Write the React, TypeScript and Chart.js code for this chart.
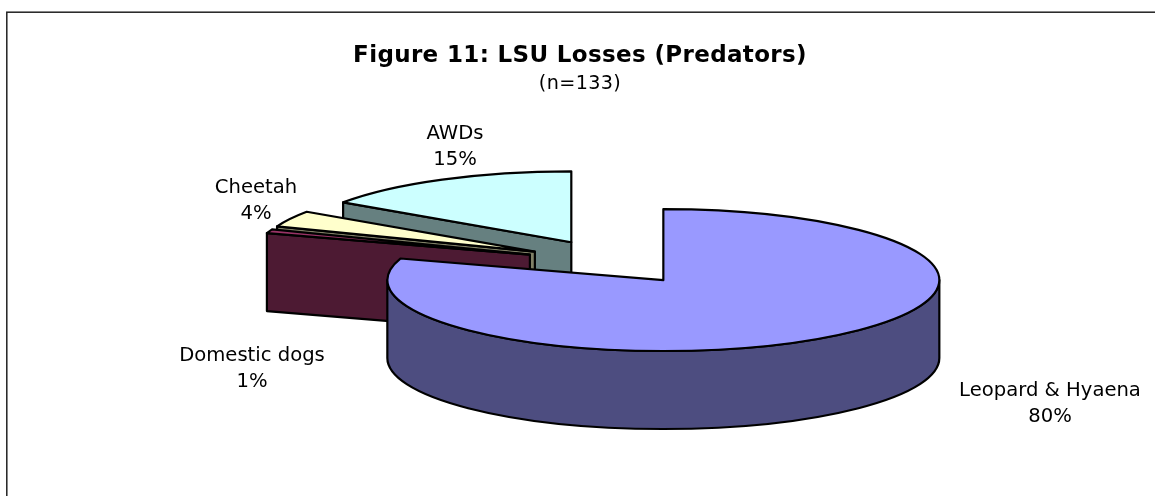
import React, { useEffect, useRef } from "react";
import { Chart, registerables } from "chart.js";

Chart.register(...registerables);

const categories = ["Leopard & Hyaena", "Domestic dogs", "Cheetah", "AWDs"];
const shares = [79.9, 0.9, 3.7, 15.49];
const percentLabels = ["80%", "1%", "4%", "15%"];
const topColors = ["#9999FF", "#993366", "#FFFFCC", "#CCFFFF"];
const sideColors = ["#4D4D80", "#4D1A33", "#808066", "#668080"];
const labelCenters = [
  [1050, 403.5],
  [252, 368.5],
  [256, 200.5],
  [455, 146.5],
];

const FONT = '"DejaVu Sans", Verdana, sans-serif';
const PIE_X = 612;
const PIE_Y = 262;
const RADIUS = 276;
const SQUASH = 0.257;
const DEPTH = 78;
const EXPLODE = 87;

const pie3d = {
  id: "pie3d",
  beforeDatasetsDraw(chart: any) {
    const { ctx } = chart;
    const arcs = chart.getDatasetMeta(0).data;
    ctx.save();
    ctx.lineWidth = 2.2;
    ctx.strokeStyle = "#000";
    ctx.lineJoin = "round";
    for (let i = arcs.length - 1; i >= 0; i--) {
      const { startAngle: a1, endAngle: a2, outerRadius: rr } = arcs[i].getProps(
        ["startAngle", "endAngle", "outerRadius"],
        true
      );
      const mid = (a1 + a2) / 2;
      const cx = PIE_X + Math.cos(mid) * EXPLODE;
      const cy = PIE_Y + Math.sin(mid) * EXPLODE * SQUASH;
      const px = (a: number) => cx + rr * Math.cos(a);
      const py = (a: number) => cy + rr * SQUASH * Math.sin(a);

      const wall = (a: number) => {
        ctx.beginPath();
        ctx.moveTo(cx, cy);
        ctx.lineTo(px(a), py(a));
        ctx.lineTo(px(a), py(a) + DEPTH);
        ctx.lineTo(cx, cy + DEPTH);
        ctx.closePath();
        ctx.fillStyle = sideColors[i];
        ctx.fill();
        ctx.stroke();
      };
      if (-Math.cos(a1) > 0.001) wall(a1);
      if (Math.cos(a2) > 0.001) wall(a2);

      const r1 = Math.max(a1, 0);
      const r2 = Math.min(a2, Math.PI);
      if (r2 > r1) {
        ctx.beginPath();
        ctx.ellipse(cx, cy, rr, rr * SQUASH, 0, r1, r2);
        ctx.lineTo(px(r2), py(r2) + DEPTH);
        ctx.ellipse(cx, cy + DEPTH, rr, rr * SQUASH, 0, r2, r1, true);
        ctx.closePath();
        ctx.fillStyle = sideColors[i];
        ctx.fill();
        ctx.stroke();
      }

      ctx.beginPath();
      ctx.moveTo(cx, cy);
      ctx.ellipse(cx, cy, rr, rr * SQUASH, 0, a1, a2);
      ctx.closePath();
      ctx.fillStyle = topColors[i];
      ctx.fill();
      ctx.stroke();
    }
    ctx.restore();
    return false;
  },
  beforeDraw(chart: any) {
    chart.ctx.letterSpacing = "0.35px";
  },
  afterDraw(chart: any) {
    const { ctx } = chart;
    ctx.letterSpacing = "0px";
    ctx.save();
    // chart frame: runs off the right and bottom of the picture
    ctx.strokeStyle = "#222";
    ctx.lineWidth = 1.5;
    ctx.strokeRect(6.8, 12.2, 1300, 700);
    ctx.font = `19.6px ${FONT}`;
    ctx.fillStyle = "#000";
    ctx.textAlign = "center";
    ctx.textBaseline = "middle";
    categories.forEach((name, i) => {
      const [x, y] = labelCenters[i];
      ctx.fillText(name, x, y - 13);
      ctx.fillText(percentLabels[i], x, y + 13);
    });
    ctx.restore();
  },
};

export default function App() {
  const ref = useRef<HTMLCanvasElement>(null);
  useEffect(() => {
    document.body.style.margin = "0";
    const chart = new Chart(ref.current!, {
      type: "pie",
      data: {
        labels: categories,
        datasets: [
          {
            data: shares,
            backgroundColor: topColors,
            borderColor: "#000",
            borderWidth: 2,
          },
        ],
      },
      options: {
        responsive: false,
        animation: false,
        radius: RADIUS,
        layout: { padding: { left: 5 } },
        plugins: {
          legend: { display: false },
          tooltip: { enabled: false },
          title: {
            display: true,
            text: "Figure 11: LSU Losses (Predators)",
            color: "#000",
            font: { family: FONT, size: 23, weight: "bold" },
            padding: { top: 42, bottom: 0 },
          },
          subtitle: {
            display: true,
            text: "(n=133)",
            color: "#000",
            font: { family: FONT, size: 19.2, weight: "normal" },
            padding: { top: 3, bottom: 0 },
          },
        },
      } as any,
      plugins: [pie3d],
    });
    return () => chart.destroy();
  }, []);
  return <canvas ref={ref} width={1155} height={496} style={{ display: "block" }} />;
}
